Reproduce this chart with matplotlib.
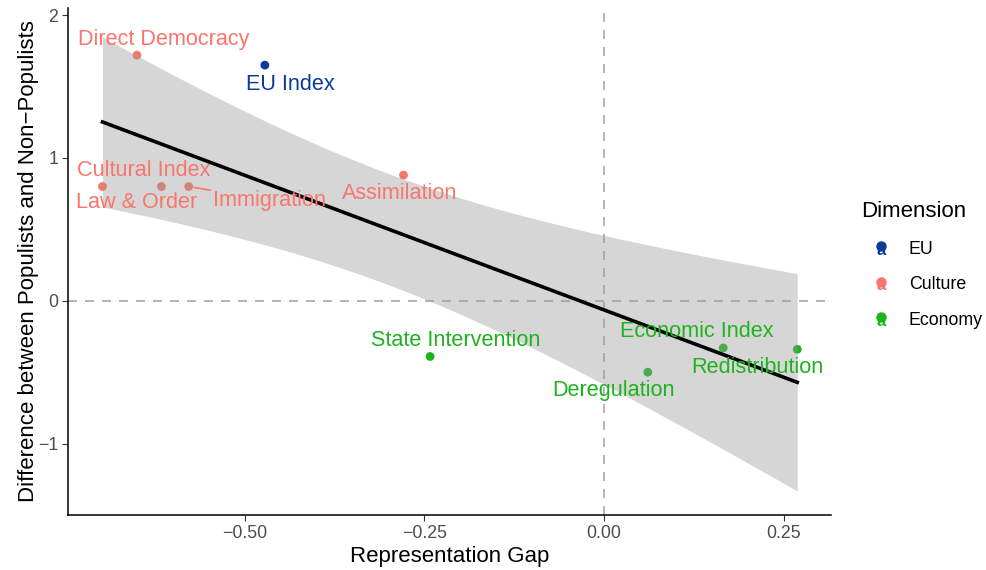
import numpy as np
import matplotlib
matplotlib.use('Agg')
import matplotlib.pyplot as plt
from matplotlib.lines import Line2D
from matplotlib.text import Text
from matplotlib.legend_handler import HandlerBase

plt.rcParams['font.family'] = ['Liberation Sans', 'DejaVu Sans']

# ---- data ----
items = ['Direct Democracy', 'EU Index', 'Law & Order', 'Cultural Index', 'Immigration',
         'Assimilation', 'State Intervention', 'Deregulation', 'Economic Index', 'Redistribution']
dimension = ['Culture', 'EU', 'Culture', 'Culture', 'Culture',
             'Culture', 'Economy', 'Economy', 'Economy', 'Economy']
rep_gap = [-0.650, -0.472, -0.698, -0.616, -0.578, -0.279, -0.242, 0.061, 0.166, 0.269]
pop_diff = [1.72, 1.65, 0.80, 0.80, 0.80, 0.88, -0.39, -0.50, -0.33, -0.34]

dim_order = ['EU', 'Culture', 'Economy']
dim_colors = {'EU': '#0A3A9A', 'Culture': '#F8766D', 'Economy': '#1DB31D'}

# label offsets in pixels (dx, dy) relative to the point, like ggrepel placed them
label_offsets = {
    'Direct Democracy': (27, 16), 'EU Index': (26, -19), 'Law & Order': (34, -16),
    'Cultural Index': (-18, 16), 'Immigration': (81, -14), 'Assimilation': (-4, -18),
    'State Intervention': (26, 16), 'Deregulation': (-34, -18),
    'Economic Index': (-26, 16), 'Redistribution': (-40, -18),
}

x = np.array(rep_gap)
y = np.array(pop_diff)

# linear fit with 95% confidence band (like geom_smooth(method='lm'))
n = len(x)
b1, b0 = np.polyfit(x, y, 1)
resid = y - (b0 + b1 * x)
s = np.sqrt(np.sum(resid ** 2) / (n - 2))
t_crit = 2.306  # t(0.975, df=8)
xs = np.linspace(x.min(), x.max(), 100)
fit = b0 + b1 * xs
se = s * np.sqrt(1 / n + (xs - x.mean()) ** 2 / np.sum((x - x.mean()) ** 2))

fig = plt.figure(figsize=(9.86, 5.70), dpi=100)
ax = fig.add_axes([68 / 986, 1 - 515 / 570, (831 - 68) / 986, (515 - 8) / 570])

dash = (0, (5.4, 4.8))
ax.axhline(0, color='#A8A8A8', lw=1.2, ls=dash, zorder=1)
ax.axvline(0, color='#A8A8A8', lw=1.2, ls=dash, zorder=1)

cols = [dim_colors[d] for d in dimension]
ax.scatter(x, y, c=cols, s=40, zorder=2, linewidths=0)

ax.fill_between(xs, fit - t_crit * se, fit + t_crit * se, color='#999999', alpha=0.4,
                lw=0, zorder=3)
ax.plot(xs, fit, color='black', lw=2.6, zorder=4)

for name, xi, yi, c in zip(items, x, y, cols):
    dx, dy = label_offsets[name]
    if name == 'Immigration':
        ax.annotate(name, (xi, yi), xytext=(dx, dy), textcoords='offset pixels',
                    ha='center', va='center', color=c, fontsize=15.6, zorder=5,
                    arrowprops=dict(arrowstyle='-', color=c, lw=1.2, shrinkA=0, shrinkB=4))
    else:
        ax.annotate(name, (xi, yi), xytext=(dx, dy), textcoords='offset pixels',
                    ha='center', va='center', color=c, fontsize=15.6, zorder=5)

ax.set_xlim(-0.746, 0.316)
ax.set_ylim(-1.50, 2.05)
ax.set_xticks([-0.50, -0.25, 0.00, 0.25])
ax.set_xticklabels(['\u22120.50', '\u22120.25', '0.00', '0.25'])
ax.set_yticks([-1, 0, 1, 2])
ax.set_yticklabels(['\u22121', '0', '1', '2'])
ax.tick_params(colors='#333333', labelcolor='#4D4D4D', labelsize=12.8, length=4,
               width=0.8, pad=3)
for side in ['top', 'right']:
    ax.spines[side].set_visible(False)
for side in ['left', 'bottom']:
    ax.spines[side].set_linewidth(1.1)
ax.set_xlabel('Representation Gap', fontsize=16, labelpad=3)
ax.set_ylabel('Difference between Populists and Non\u2212Populists', fontsize=16, labelpad=-1)


class HandlerPointA(HandlerBase):
    def create_artists(self, legend, orig_handle, xdescent, ydescent, width, height,
                       fontsize, trans):
        c = orig_handle.get_color()
        cx = width / 2 - xdescent
        cy = height / 2 - ydescent
        txt = Text(cx, cy - 2, 'a', color=c, ha='center', va='center', fontsize=12,
                   fontweight='bold', transform=trans)
        dot = Line2D([cx], [cy + 1], marker='o', color=c, markersize=6.5, ls='',
                     transform=trans)
        return [txt, dot]


handles = [Line2D([], [], color=dim_colors[d]) for d in dim_order]
leg = fig.legend(handles, dim_order, title='Dimension', loc='upper left',
                 bbox_to_anchor=(845 / 986, 1 - 185 / 570), frameon=False,
                 handler_map={Line2D: HandlerPointA()}, fontsize=12.8,
                 title_fontsize=16, handlelength=2.25, labelspacing=1.05,
                 handletextpad=0.45, alignment='left')

fig.savefig('out.png', dpi=100)
